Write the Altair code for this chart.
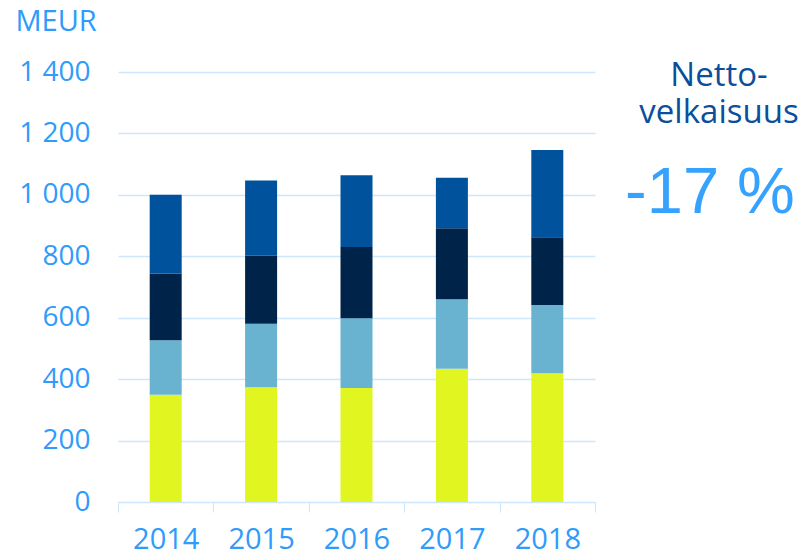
import altair as alt
import pandas as pd

years = ["2014", "2015", "2016", "2017", "2018"]
seg_yellow = [349, 374, 371, 434, 419]
seg_lightblue = [178, 206, 227, 226, 222]
seg_navy = [217, 222, 232, 231, 221]
seg_blue = [256, 245, 234, 165, 284]
series_names = ["Osa 1", "Osa 2", "Osa 3", "Osa 4"]
series_colors = ["#E1F521", "#69B3D0", "#00234A", "#00529C"]
y_ticks = [0, 200, 400, 600, 800, 1000, 1200, 1400]

rows = []
for i, yr in enumerate(years):
    for k, vals in enumerate([seg_yellow, seg_lightblue, seg_navy, seg_blue]):
        rows.append({"year": yr, "series": series_names[k], "order": k, "value": vals[i]})
df = pd.DataFrame(rows)

label_blue = "#2F9BFA"
grid_blue = "#CDE6FB"
FONT = "Open Sans"

bars = alt.Chart(df).mark_bar(size=32).encode(
    x=alt.X("year:N", title=None,
            scale=alt.Scale(paddingInner=0, paddingOuter=0),
            axis=alt.Axis(labelAngle=0, tickBand="extent", tickSize=10,
                          tickColor=grid_blue, domainColor=grid_blue,
                          labelColor=label_blue, labelFontSize=29, labelFont=FONT,
                          labelPadding=13, grid=False)),
    y=alt.Y("value:Q", stack="zero",
            scale=alt.Scale(domain=[0, 1400], nice=False),
            axis=alt.Axis(values=y_ticks, domain=False, ticks=False,
                          gridColor=grid_blue, gridWidth=1.5,
                          labelColor=label_blue, labelFontSize=28, labelFont=FONT,
                          labelPadding=28,
                          labelExpr="replace(format(datum.value, ','), ',', ' ')",
                          title="MEUR", titleAngle=0, titleX=-103, titleY=-42,
                          titleAlign="left", titleBaseline="alphabetic",
                          titleColor=label_blue, titleFontSize=29, titleFont=FONT,
                          titleFontWeight="normal", titleLimit=200)),
    color=alt.Color("series:N", legend=None,
                    scale=alt.Scale(domain=series_names, range=series_colors)),
    order=alt.Order("order:Q"),
)

one = pd.DataFrame({"k": [0]})
t1 = alt.Chart(one).mark_text(text="Netto-", font=FONT, fontSize=33, color="#0B4F9C",
                              align="center", baseline="alphabetic").encode(
    x=alt.value(601), y=alt.value(14))
t2 = alt.Chart(one).mark_text(text="velkaisuus", font=FONT, fontSize=33, color="#0B4F9C",
                              align="center", baseline="alphabetic").encode(
    x=alt.value(601), y=alt.value(51))
t3 = alt.Chart(one).mark_text(text="-17 %", font="Liberation Sans", fontSize=65,
                              color="#36A2FF", align="center", baseline="alphabetic").encode(
    x=alt.value(592), y=alt.value(141))

chart = alt.layer(bars, t1, t2, t3).properties(
    width=477, height=430,
    autosize=alt.AutoSizeParams(type="none"),
    padding={"left": 110, "top": 64, "right": 207, "bottom": 57},
).configure_view(stroke=None)

chart.save("out.html", embed_options={"renderer": "svg", "actions": False})
